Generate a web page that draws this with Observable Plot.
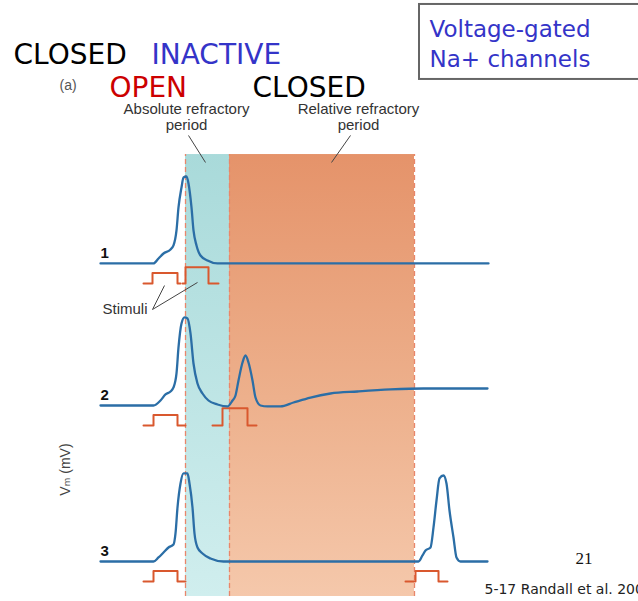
<!DOCTYPE html>
<html>
<head>
<meta charset="utf-8">
<script src="https://cdn.jsdelivr.net/npm/d3@7"></script>
<script src="https://cdn.jsdelivr.net/npm/@observablehq/plot@0.6"></script>
<style>
  html, body { margin: 0; padding: 0; background: #fff; }
  #chart svg { display: block; }
</style>
</head>
<body>
<div id="chart"></div>
<script>
// ---------------- DATA (time in ms, membrane potential in mV) ----------------
const traceLabels = ["1", "2", "3"];

// Trace 1: single action potential
const trace1 = [
  [0, -70], [2.65, -70], [2.9, -64.3], [3.15, -58.6], [3.5, -54], [3.65, -49.4],
  [3.8, -32.3], [3.9, -6], [4.05, 16.9], [4.15, 28.3], [4.3, 29.4], [4.4, 21.4],
  [4.55, -6], [4.65, -32.3], [4.8, -49.4], [5.0, -60.9], [5.35, -66.6], [5.85, -70],
  [6.35, -70], [19.4, -70]
];

// Trace 2: second stimulus in the relative refractory period
const trace2 = [
  [0, -70], [2.65, -70], [3.0, -64.3], [3.25, -57.4], [3.5, -54], [3.65, -49.4],
  [3.8, -33.4], [3.9, -3.7], [4.05, 23.7], [4.2, 30.6], [4.35, 29.4], [4.5, 12.3],
  [4.65, -22], [4.85, -44.9], [5.1, -56.3], [5.4, -64.3], [5.85, -68.9], [6.35, -71.1],
  [6.6, -64.3], [6.75, -58.6], [6.9, -41.4], [7.1, -20.9], [7.25, -12.9], [7.4, -20.9],
  [7.6, -41.4], [7.75, -60.9], [8.0, -70], [8.35, -71.1], [9.0, -71.1], [9.65, -66.6],
  [10.5, -60.9], [11.5, -56.3], [12.85, -54], [14.5, -51.7], [16.15, -50.6], [19.35, -50.6]
];

// Trace 3: second stimulus after the refractory periods
const trace3 = [
  [0, -70], [2.65, -70], [2.9, -65.4], [3.15, -59.7], [3.4, -54], [3.65, -50.6],
  [3.75, -38], [3.85, -8.3], [4.0, 19.1], [4.15, 30.6], [4.35, 30.6], [4.45, 19.1],
  [4.6, -8.3], [4.7, -38], [4.85, -54], [5.1, -60.9], [5.5, -66.6], [6.15, -70],
  [15.9, -70], [16.1, -63.1], [16.25, -57.4], [16.5, -54], [16.65, -31.1], [16.8, -0.3],
  [16.95, 24.9], [17.15, 28.3], [17.3, 19.1], [17.45, -11.7], [17.65, -42.6],
  [17.8, -65.4], [18.0, -70], [19.35, -70]
];

// Stimulus pulses: trace index, line start, pulse on, pulse off, line end (ms), relative intensity
const stimulusPulses = [
  {trace: 0, start: 2.15, on: 2.6,  off: 3.85, end: 4.0,  amp: 1.0},
  {trace: 0, start: 4.1,  on: 4.25, off: 5.4,  end: 5.9,  amp: 1.55},
  {trace: 1, start: 2.15, on: 2.65, off: 3.85, end: 4.25, amp: 1.0},
  {trace: 1, start: 5.6,  on: 6.1,  off: 7.35, end: 7.8,  amp: 1.65},
  {trace: 2, start: 2.15, on: 2.65, off: 3.85, end: 4.25, amp: 1.0},
  {trace: 2, start: 15.25, on: 15.75, off: 16.9, end: 17.35, amp: 1.0}
];

// Refractory periods (ms)
const periodNames = ["Absolute refractory\nperiod", "Relative refractory\nperiod"];
const periodBounds = [4.25, 6.45, 15.7];

// Na+ channel states
const channelStates = ["CLOSED", "INACTIVE", "OPEN", "CLOSED"];
const boxTitle = "Voltage-gated\nNa+ channels";
const axisLabel = "Vₘ (mV)";
const pageNumber = "21";
const citation = "5-17 Randall et al. 2002";

// ---------------- LAYOUT ----------------
const W = 638, H = 601;
const PX_PER_MS = 20, PX_PER_MV = 0.875;
const xDomain = [-5, -5 + W / PX_PER_MS];
const yTop = 571.14;
const yDomain = [yTop - H / PX_PER_MV, yTop];
const traceOffsets = [340.6, 178.3, 0];     // vertical stacking of the three recordings
const stimBelow = 22.9, stimGain = 12;       // stimulus trace placement
const regionY = [-110, 395.1];

const traces = [trace1, trace2, trace3];
const TRACE = "#2b6ea6", STIM = "#d9582e", DASH = "#e8866a";

const stimSteps = stimulusPulses.map(p => {
  const base = -70 + traceOffsets[p.trace] - stimBelow;
  const top = base + p.amp * stimGain;
  return [[p.start, base], [p.on, base], [p.on, top], [p.off, top], [p.off, base], [p.end, base]];
});

const periods = periodNames.map((name, i) => ({name, x1: periodBounds[i], x2: periodBounds[i + 1]}));

const gradients = () => {
  const defs = d3.create("svg:defs");
  const g1 = defs.append("linearGradient").attr("id", "cyanGrad").attr("x1", 0).attr("y1", 0).attr("x2", 0).attr("y2", 1);
  g1.append("stop").attr("offset", "0%").attr("stop-color", "#a9dada");
  g1.append("stop").attr("offset", "100%").attr("stop-color", "#d0eeee");
  const g2 = defs.append("linearGradient").attr("id", "orangeGrad").attr("x1", 0).attr("y1", 0).attr("x2", 0).attr("y2", 1);
  g2.append("stop").attr("offset", "0%").attr("stop-color", "#e5936a");
  g2.append("stop").attr("offset", "55%").attr("stop-color", "#edb08c");
  g2.append("stop").attr("offset", "100%").attr("stop-color", "#f5c8ab");
  return defs.node();
};

const SANS = "'Liberation Sans', Arial, sans-serif";
const DJ = "'DejaVu Sans', Verdana, sans-serif";

const stateText = [
  {text: channelStates[0], x: -4.35, y: 498.0, fill: "#000"},
  {text: channelStates[1], x: 2.55,  y: 498.0, fill: "#3434c8"},
  {text: channelStates[2], x: 0.45,  y: 460.9, fill: "#cc0000"},
  {text: channelStates[3], x: 7.6,   y: 460.9, fill: "#000"}
];
const periodLabelPos = [{x: 4.3, y: 422.6}, {x: 12.9, y: 422.6}];
const leaders = [
  {x1: 4.4, y1: 416.9, x2: 5.25, y2: 386.0},
  {x1: 12.5, y1: 416.9, x2: 11.55, y2: 386.0},
  {x1: 2.6, y1: 218.0, x2: 3.2, y2: 245.4},
  {x1: 2.6, y1: 218.0, x2: 4.85, y2: 248.9}
];

const marks = [
  gradients,
  Plot.rect([periods[0]], {x1: "x1", x2: "x2", y1: regionY[0], y2: regionY[1], fill: "url(#cyanGrad)"}),
  Plot.rect([periods[1]], {x1: "x1", x2: "x2", y1: regionY[0], y2: regionY[1], fill: "url(#orangeGrad)"}),
  Plot.ruleX(periodBounds, {y1: regionY[0], y2: regionY[1], stroke: DASH, strokeWidth: 1.3, strokeDasharray: "5,3"}),
  ...stimSteps.map(s => Plot.line(s, {x: d => d[0], y: d => d[1], stroke: STIM, strokeWidth: 2})),
  ...traces.map((tr, i) => Plot.line(tr, {x: d => d[0], y: d => d[1] + traceOffsets[i], stroke: TRACE, strokeWidth: 2.3, curve: "monotone-x"})),
  Plot.text(traceLabels, {x: 0, y: (d, i) => -70 + traceOffsets[i], dy: -5, text: d => d, textAnchor: "start", lineAnchor: "bottom", fontSize: 15, fontWeight: "bold", fill: "#111", fontFamily: SANS}),
  Plot.link(leaders, {x1: "x1", y1: "y1", x2: "x2", y2: "y2", stroke: "#444", strokeWidth: 1}),
  Plot.text(periods, {x: (d, i) => periodLabelPos[i].x, y: (d, i) => periodLabelPos[i].y, text: "name", textAnchor: "middle", lineAnchor: "bottom", lineHeight: 1.13, fontSize: 15, fill: "#333", fontFamily: SANS}),
  Plot.text(["Stimuli"], {x: 0.1, y: 213.4, text: d => d, textAnchor: "start", lineAnchor: "bottom", fontSize: 15, fill: "#333", fontFamily: SANS}),
  Plot.text(["(a)"], {x: -2.05, y: 469.4, text: d => d, textAnchor: "start", lineAnchor: "bottom", fontSize: 14, fill: "#555", fontFamily: SANS}),
  Plot.text([axisLabel], {x: -1.75, y: 35.1, text: d => d, rotate: -90, textAnchor: "middle", lineAnchor: "middle", fontSize: 14, fill: "#444", fontFamily: SANS + ", 'DejaVu Sans'"}),
  Plot.text(stateText, {x: "x", y: "y", text: "text", fill: "fill", textAnchor: "start", lineAnchor: "bottom", fontSize: 28, fontFamily: DJ}),
  Plot.rect([boxTitle], {x1: 15.95, x2: 27.2, y1: 480.9, y2: 566.6, fill: "#fff", stroke: "#666", strokeWidth: 2}),
  Plot.text([boxTitle], {x: 16.45, y: 494.6, text: d => d, textAnchor: "start", lineAnchor: "bottom", lineHeight: 1.335, fontSize: 23, fill: "#3434c8", fontFamily: DJ}),
  Plot.text([pageNumber], {x: 23.75, y: -72.3, text: d => d, textAnchor: "start", lineAnchor: "bottom", fontSize: 17, fill: "#111", fontFamily: "'Liberation Serif', 'Times New Roman', serif"}),
  Plot.text([citation], {x: 19.2, y: -106.6, text: d => d, textAnchor: "start", lineAnchor: "bottom", fontSize: 14, fill: "#222", fontFamily: DJ})
];

const chart = Plot.plot({
  width: W, height: H,
  margin: 0, marginTop: 0, marginRight: 0, marginBottom: 0, marginLeft: 0,
  x: {domain: xDomain, axis: null},
  y: {domain: yDomain, axis: null},
  style: {background: "#fff", fontFamily: SANS, overflow: "hidden"},
  marks
});
document.getElementById("chart").appendChild(chart);
</script>
</body>
</html>
